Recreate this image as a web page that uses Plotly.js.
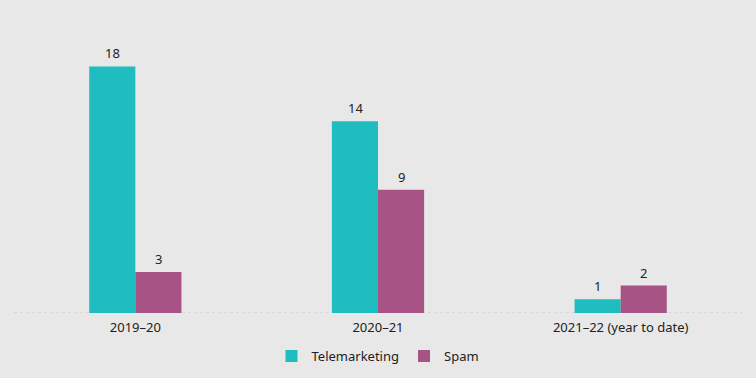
<!DOCTYPE html>
<html>
<head>
<meta charset="utf-8">
<script src="https://cdn.plot.ly/plotly-3.0.1.min.js"></script>
<style>html,body{margin:0;padding:0;background:#e8e8e8;}#chart{width:756px;height:378px;}</style>
</head>
<body>
<div id="chart"></div>
<script>
const categories = ["2019–20", "2020–21", "2021–22 (year to date)"];
const telemarketing = [18, 14, 1];
const spam = [3, 9, 2];

const font = {family: "Noto Sans, Open Sans, sans-serif", size: 12, color: "#222"};
const traces = [
  {type: "bar", name: "Telemarketing", x: categories, y: telemarketing,
   marker: {color: "#1fbdbf"}, offsetgroup: "a"},
  {type: "bar", name: "Spam", x: categories, y: spam,
   marker: {color: "#a75386"}, offsetgroup: "b"}
];
const annotations = [];
categories.forEach((c, i) => {
  annotations.push({x: c, y: telemarketing[i], text: String(telemarketing[i]), showarrow: false,
    xanchor: "center", yanchor: "bottom", xshift: -23, yshift: 2, font: {size: 13, color: "#222"}});
  annotations.push({x: c, y: spam[i], text: String(spam[i]), showarrow: false,
    xanchor: "center", yanchor: "bottom", xshift: 23, yshift: 2, font: {size: 13, color: "#222"}});
});
const layout = {
  width: 756, height: 378,
  paper_bgcolor: "#e8e8e8", plot_bgcolor: "#e8e8e8",
  margin: {l: 14, r: 14, t: 39, b: 65, autoexpand: false},
  font: font,
  barmode: "group", bargap: 0.62, bargroupgap: 0,
  showlegend: true,
  legend: {orientation: "h", x: 0.5, xanchor: "center", xref: "container",
           y: 0.058, yanchor: "middle", yref: "container",
           font: {size: 13, color: "#222"}, itemwidth: 30, traceorder: "normal"},
  xaxis: {showgrid: false, showline: false, zeroline: false, ticks: "", automargin: false,
          ticklabelstandoff: 5, tickfont: {size: 13, color: "#222"}},
  yaxis: {range: [0, 20], showgrid: false, zeroline: false, showticklabels: false, visible: false},
  annotations: annotations,
  shapes: [{type: "line", xref: "paper", yref: "y", x0: 0, x1: 1, y0: 0, y1: 0,
            line: {color: "#c8c8c8", width: 1, dash: "dot"}, layer: "below"}]
};
Plotly.newPlot("chart", traces, layout, {displayModeBar: false, staticPlot: true});
</script>
</body>
</html>
